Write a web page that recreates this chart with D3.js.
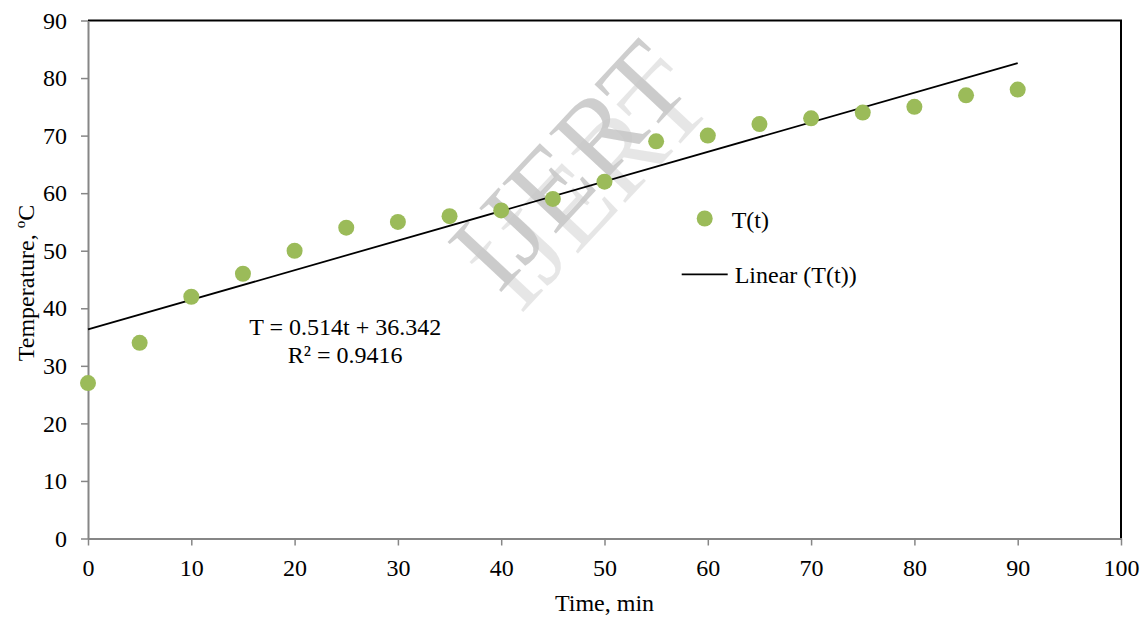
<!DOCTYPE html>
<html>
<head>
<meta charset="utf-8">
<script src="https://cdn.jsdelivr.net/npm/d3@7"></script>
<style>
  html, body { margin: 0; padding: 0; background: #fff; }
  svg { display: block; font-family: "Liberation Serif", "Times New Roman", serif; }
</style>
</head>
<body>
<div id="chart"></div>
<script>
// data
const times = [0, 5, 10, 15, 20, 25, 30, 35, 40, 45, 50, 55, 60, 65, 70, 75, 80, 85, 90]
const temps = [27, 34, 42, 46, 50, 54, 55, 56, 57, 59, 62, 69, 70, 72, 73, 74, 75, 77, 78]
const xTicks = [0, 10, 20, 30, 40, 50, 60, 70, 80, 90, 100]
const yTicks = [0, 10, 20, 30, 40, 50, 60, 70, 80, 90]
const slope = 0.514
const intercept = 36.342
const equationLines = ['T = 0.514t + 36.342', 'R\u00b2 = 0.9416']
const legendLabels = ['T(t)', 'Linear (T(t))']

const WIDTH = 1145
const HEIGHT = 617
const MARGIN = { top: 20.5, right: 24, bottom: 78.5, left: 88 }
const GREEN = '#9bbb59'
const AXIS_GREY = '#868686'
const FONT = 24

const innerW = WIDTH - MARGIN.left - MARGIN.right
const innerH = HEIGHT - MARGIN.top - MARGIN.bottom

const svg = d3.select('#chart')
  .append('svg')
  .attr('width', WIDTH)
  .attr('height', HEIGHT)

const g = svg.append('g')
  .attr('transform', `translate(${MARGIN.left},${MARGIN.top})`)

const x = d3.scaleLinear().domain([0, 100]).range([0, innerW])
const y = d3.scaleLinear().domain([0, 90]).range([innerH, 0])

// watermark (behind the marks): light offset copy, then darker copy
const wm = g.append('g').attr('pointer-events', 'none')
const wmCopies = [
  { dx: 22, dy: 20, fill: '#e2e2e2' },
  { dx: 0, dy: 0, fill: '#c6c6c6' }
]
wm.selectAll('text')
  .data(wmCopies)
  .enter()
  .append('text')
  .attr('transform', d => `translate(${508 + d.dx},${170 + d.dy}) rotate(-47)`)
  .attr('text-anchor', 'middle')
  .style('font-size', '112px')
  .style('fill', d => d.fill)
  .style('fill-opacity', 0.85)
  .text('IJERT')

// top and right frame
g.append('path')
  .attr('d', `M0,0H${innerW}V${innerH}`)
  .attr('fill', 'none')
  .attr('stroke', '#000')
  .attr('stroke-width', 2)

// X axis
g.append('g')
  .attr('transform', `translate(0,${innerH})`)
  .call(d3.axisBottom(x).tickValues(xTicks).tickSize(7).tickSizeOuter(0).tickPadding(13))
  .call((sel) => sel.select('.domain').attr('stroke', AXIS_GREY).attr('stroke-width', 2))
  .call((sel) => sel.selectAll('.tick line').attr('stroke', AXIS_GREY).attr('stroke-width', 1.5))
  .call((sel) =>
    sel.selectAll('.tick text')
      .style('font-size', FONT + 'px')
      .style('font-family', '"Liberation Serif", serif')
      .style('fill', '#000')
  )

// Y axis
g.append('g')
  .call(d3.axisLeft(y).tickValues(yTicks).tickSize(7).tickSizeOuter(0).tickPadding(14))
  .call((sel) => sel.select('.domain').attr('stroke', AXIS_GREY).attr('stroke-width', 2))
  .call((sel) => sel.selectAll('.tick line').attr('stroke', AXIS_GREY).attr('stroke-width', 1.5))
  .call((sel) =>
    sel.selectAll('.tick text')
      .style('font-size', FONT + 'px')
      .style('font-family', '"Liberation Serif", serif')
      .style('fill', '#000')
  )

// trend line
const line = d3.line()
  .x(d => x(d))
  .y(d => y(slope * d + intercept))

g.append('path')
  .datum([d3.min(times), d3.max(times)])
  .attr('fill', 'none')
  .attr('stroke', '#000')
  .attr('stroke-width', 1.75)
  .attr('d', line)

// points
g.selectAll('.dot')
  .data(times.map((t, i) => ({ t, v: temps[i] })))
  .enter()
  .append('circle')
  .attr('class', 'dot')
  .attr('cx', d => x(d.t))
  .attr('cy', d => y(d.v))
  .attr('r', 8)
  .attr('fill', GREEN)

// equation label
g.append('text')
  .attr('x', x(24.9))
  .attr('y', y(35.4))
  .attr('text-anchor', 'middle')
  .style('font-size', FONT + 'px')
  .selectAll('tspan')
  .data(equationLines)
  .enter()
  .append('tspan')
  .attr('x', x(24.9))
  .attr('dy', (d, i) => (i === 0 ? 0 : 28))
  .text(d => d)

// legend
const legend = g.append('g')
  .attr('transform', `translate(${x(59.7)},${y(55.6)})`)

legend.append('circle')
  .attr('cx', 0).attr('cy', 0).attr('r', 8)
  .attr('fill', GREEN)
legend.append('text')
  .attr('x', 27).attr('y', 10)
  .style('font-size', FONT + 'px')
  .text(legendLabels[0])

legend.append('line')
  .attr('x1', -23).attr('x2', 23)
  .attr('y1', 56).attr('y2', 56)
  .attr('stroke', '#000')
  .attr('stroke-width', 1.75)
legend.append('text')
  .attr('x', 30).attr('y', 65)
  .style('font-size', FONT + 'px')
  .text(legendLabels[1])

// axis titles
svg.append('text')
  .attr('x', MARGIN.left + innerW / 2)
  .attr('y', 611)
  .attr('text-anchor', 'middle')
  .style('font-size', FONT + 'px')
  .text('Time, min')

const yTitle = svg.append('text')
  .attr('transform', `translate(34,${283}) rotate(-90)`)
  .attr('text-anchor', 'middle')
  .style('font-size', FONT + 'px')
yTitle.append('tspan').text('Temperature, ')
yTitle.append('tspan').attr('dy', -9).style('font-size', '15px').text('o')
yTitle.append('tspan').attr('dy', 9).text('C')
</script>
</body>
</html>
